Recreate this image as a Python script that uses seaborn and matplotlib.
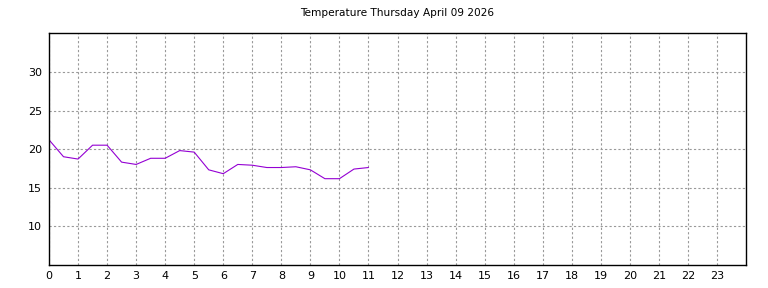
"""Temperature line for one day"""

from matplotlib import pyplot as plt
import pandas as pd
import seaborn as sns

hours = [0, 0.5, 1, 1.5, 2, 2.5, 3, 3.5, 4, 4.5, 5, 5.5,
         6, 6.5, 7, 7.5, 8, 8.5, 9, 9.5, 10, 10.5, 11]
temps = [21.2, 19.0, 18.7, 20.5, 20.5, 18.3, 18.0, 18.8, 18.8, 19.8, 19.6, 17.3,
         16.8, 18.0, 17.9, 17.6, 17.6, 17.7, 17.3, 16.15, 16.15, 17.4, 17.6]
x_ticks = list(range(24))
y_ticks = [10, 15, 20, 25, 30]
title = "Temperature Thursday April 09 2026"


def main():
    sns.set_style("ticks")
    plt.rcParams["font.family"] = ["DejaVu Sans"]
    df = pd.DataFrame({"hour": hours, "temp": temps})

    fig = plt.figure(figsize=(7.68, 2.88), dpi=100)
    ax = fig.add_axes([0.0638, 0.080, 0.9076, 0.805])

    sns.lineplot(data=df, x="hour", y="temp", ax=ax, color="darkviolet", linewidth=0.8)

    ax.set_xlim(0, 24)
    ax.set_ylim(4.95, 35.05)
    ax.set_xticks(x_ticks)
    ax.set_yticks(y_ticks)
    ax.set_xlabel("")
    ax.set_ylabel("")
    ax.grid(True, linestyle=(0, (2, 2)), color="#999999", linewidth=0.8)
    ax.tick_params(axis="x", labelsize=8, length=0, pad=4, labelcolor="black")
    ax.tick_params(axis="y", labelsize=8, length=0, pad=5, labelcolor="black")
    for s in ax.spines.values():
        s.set_visible(True)
        s.set_linewidth(1.0)
        s.set_color("black")
    ax.set_title(title, fontsize=7.6, color="black", pad=12)

    fig.savefig("out.png", dpi=100)


if __name__ == "__main__":
    main()
